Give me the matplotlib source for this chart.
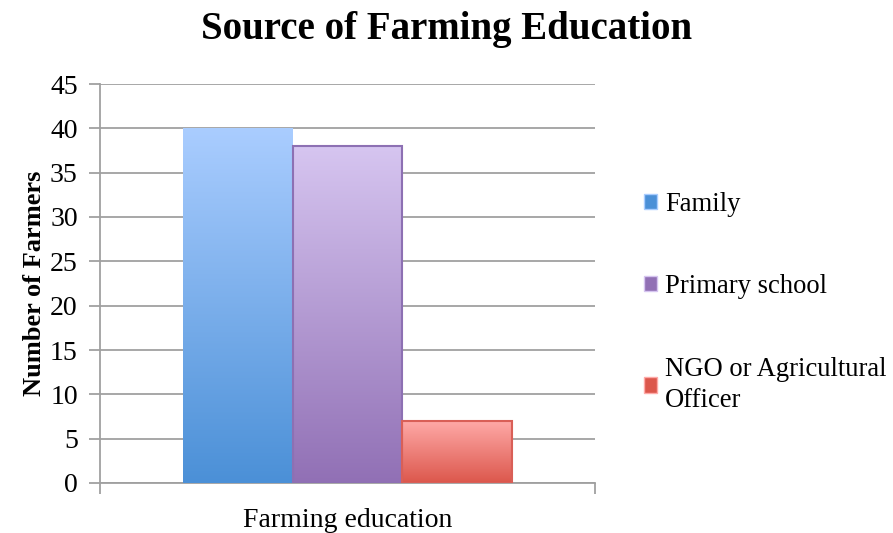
import numpy as np
import matplotlib
matplotlib.use("Agg")
import matplotlib.pyplot as plt
from matplotlib.colors import LinearSegmentedColormap

# --------- DATA ---------
CATEGORY = "Farming education"
SERIES = ["Family", "Primary school", "NGO or Agricultural\nOfficer"]
VALUES = [40, 38, 7]

# gradient (top, bottom) and edge colours per series
TOPS = ["#aacdff", "#d6c5f0", "#ffaaa8"]
BOTTOMS = ["#4b90d7", "#9170b5", "#dc574c"]
EDGES = ["none", "#8d70b3", "#d95f57"]
# ------------------------

plt.rcParams["font.family"] = ["Liberation Serif", "DejaVu Serif"]

fig = plt.figure(figsize=(8.93, 5.33), dpi=100)
ax = fig.add_axes([100 / 893, 50 / 533, 495 / 893, 399 / 533])

bar_w = 0.2222
offsets = (np.arange(len(VALUES)) - 1) * bar_w
handles = []
for i, (off, v) in enumerate(zip(offsets, VALUES)):
    b = ax.bar(off, v, width=bar_w, color=BOTTOMS[i], edgecolor=EDGES[i],
               linewidth=1.5, zorder=3, label=SERIES[i])[0]
    # vertical gradient clipped to the bar
    cmap = LinearSegmentedColormap.from_list(f"g{i}", [BOTTOMS[i], TOPS[i]])
    grad = np.linspace(0, 1, 256).reshape(-1, 1)
    im = ax.imshow(grad, cmap=cmap, origin="lower", aspect="auto",
                   extent=[off - bar_w / 2, off + bar_w / 2, 0, v], zorder=3)
    im.set_clip_path(b)
    b.set_facecolor("none")
    b.set_zorder(4)
    handles.append(plt.Rectangle((0, 0), 1, 1, facecolor=BOTTOMS[i],
                                 edgecolor=TOPS[i], linewidth=1))

ax.set_xlim(-0.5, 0.5)
ax.set_ylim(0, 45)
ax.set_yticks(range(0, 46, 5))
ax.yaxis.grid(True, color="#a0a0a0", linewidth=1.3, zorder=0)
ax.set_axisbelow(True)

ax.set_xticks([0])
ax.set_xticklabels([CATEGORY], fontsize=20)
ax.set_xticks([-0.5, 0.5], minor=True)
ax.tick_params(axis="x", which="major", length=0, pad=18)
ax.tick_params(axis="x", which="minor", length=8, color="#a0a0a0", direction="out", width=1.3)
ax.tick_params(axis="y", length=8, color="#a0a0a0", width=1.3, labelsize=20, pad=8)

for s in ["top", "right"]:
    ax.spines[s].set_visible(False)
for s in ["left", "bottom"]:
    ax.spines[s].set_color("#a0a0a0")
    ax.spines[s].set_linewidth(1.3)

ax.set_ylabel("Number of Farmers", fontsize=19, fontweight="bold", labelpad=3)
fig.text(0.5, 1 - 29 / 533, "Source of Farming Education", fontsize=28,
         fontweight="bold", ha="center", va="center")

leg = fig.legend(handles, SERIES, loc="upper left", bbox_to_anchor=(620 / 893, 1 - 168 / 533),
                 frameon=False, fontsize=19.2, labelspacing=2.15, handlelength=0.5,
                 handleheight=0.5, handletextpad=0.3)
for t in leg.get_texts():
    t.set_linespacing(1.35)

fig.savefig("out.png", dpi=100)
